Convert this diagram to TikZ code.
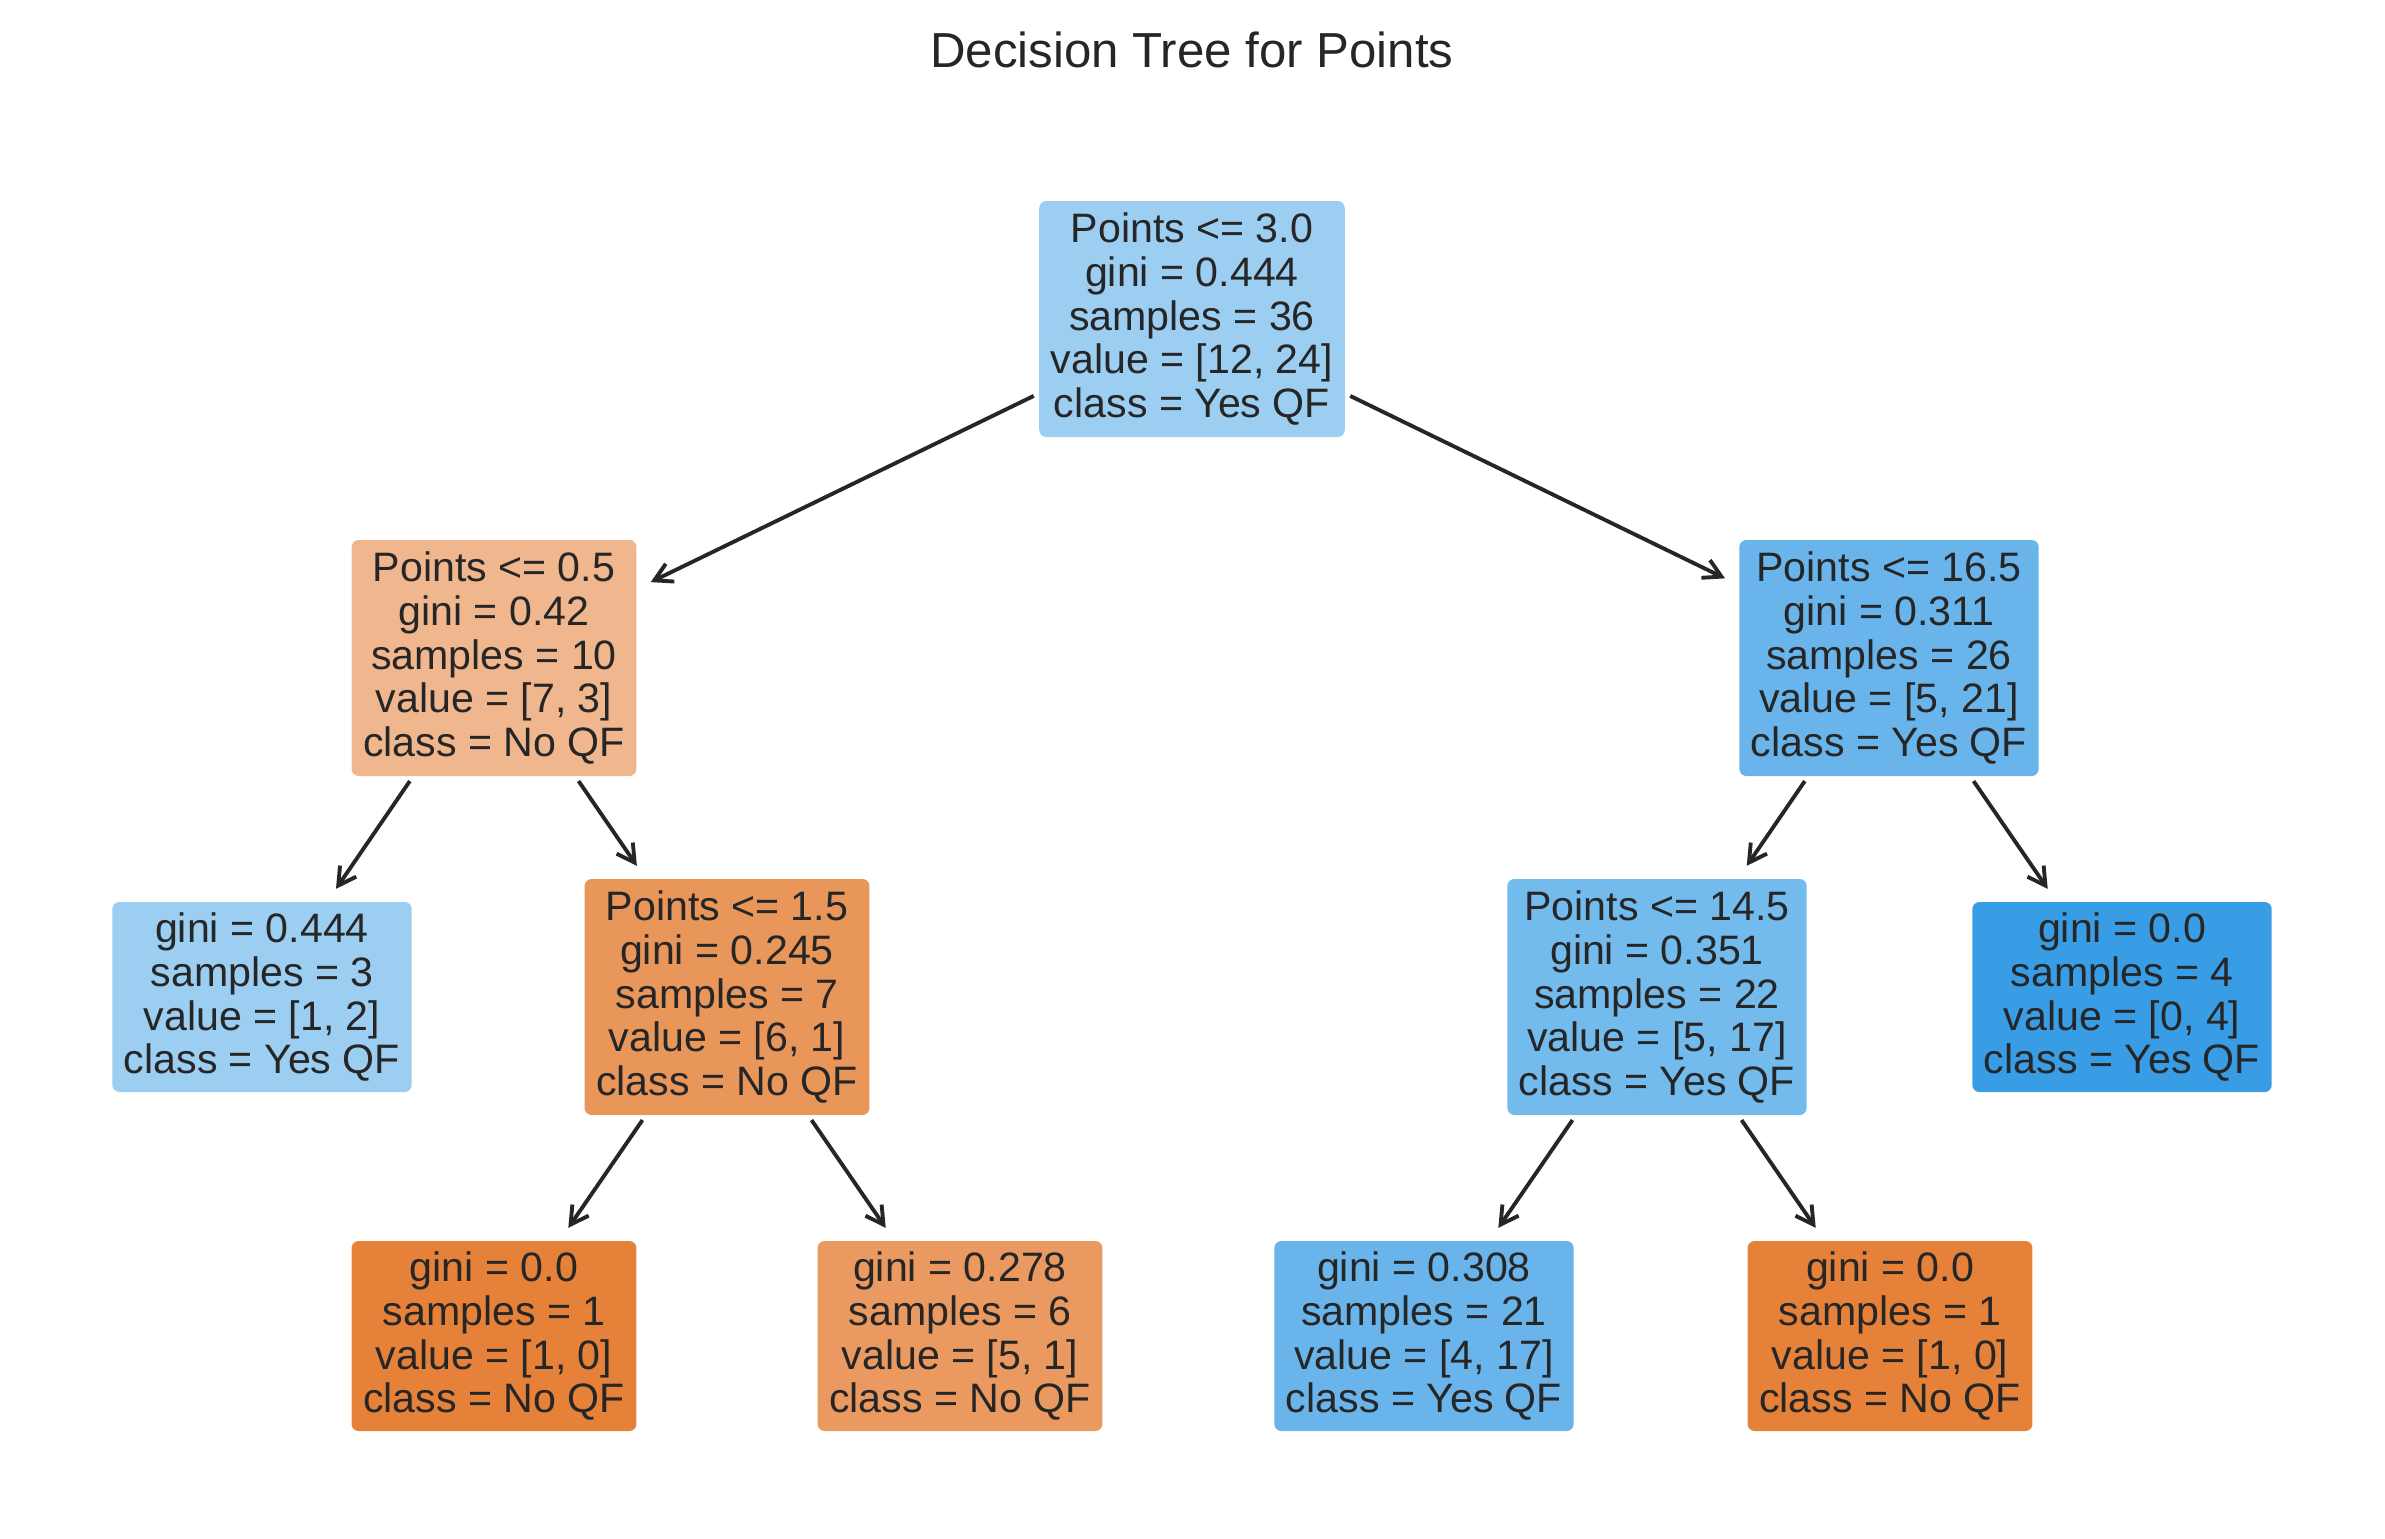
\documentclass[tikz,border=0pt]{standalone}
\usepackage{fontspec}
\setmainfont{Liberation Sans}
\usetikzlibrary{arrows.meta}

\definecolor{inkgray}{HTML}{262626}
\definecolor{yesA}{HTML}{9CCEF2}
\definecolor{yesB}{HTML}{68B4EB}
\definecolor{yesC}{HTML}{73BAED}
\definecolor{yesD}{HTML}{399DE5}
\definecolor{noA}{HTML}{F0B78E}
\definecolor{noB}{HTML}{E9965A}
\definecolor{noC}{HTML}{EA9A61}
\definecolor{noD}{HTML}{E58139}

\begin{document}
\begin{tikzpicture}[
    treebox/.style={rounded corners=2pt, inner xsep=3.3pt, inner ysep=0pt,
      align=center, text=inkgray, font=\fontsize{11.7}{12.5}\selectfont},
    splitbox/.style={treebox, minimum height=2.36cm},
    leafbox/.style={treebox, minimum height=1.90cm},
    arr/.style={-{Straight Barb[length=5pt,width=5.6pt]}, line width=1.1pt,
      draw=inkgray, shorten >=4.3pt, shorten <=1.5pt},
    % draw=black,
  ]
  \useasboundingbox (0,0) rectangle (23.85,-15.38);
  \node[anchor=base, text=inkgray, font=\fontsize{14}{16}\selectfont] (title)
    at (11.92,-0.67) {Decision Tree for Points};

  \node[splitbox, fill=yesA] (root) at (11.92,-3.19)
    {Points <= 3.0\\gini = 0.444\\samples = 36\\value = [12, 24]\\class = Yes QF};
  \node[splitbox, fill=noA] (l) at (4.94,-6.58)
    {Points <= 0.5\\gini = 0.42\\samples = 10\\value = [7, 3]\\class = No QF};
  \node[splitbox, fill=yesB] (r) at (18.89,-6.58)
    {Points <= 16.5\\gini = 0.311\\samples = 26\\value = [5, 21]\\class = Yes QF};
  \node[leafbox, fill=yesA] (ll) at (2.62,-9.97)
    {gini = 0.444\\samples = 3\\value = [1, 2]\\class = Yes QF};
  \node[splitbox, fill=noB] (lr) at (7.27,-9.97)
    {Points <= 1.5\\gini = 0.245\\samples = 7\\value = [6, 1]\\class = No QF};
  \node[splitbox, fill=yesC] (rl) at (16.57,-9.97)
    {Points <= 14.5\\gini = 0.351\\samples = 22\\value = [5, 17]\\class = Yes QF};
  \node[leafbox, fill=yesD] (rr) at (21.22,-9.97)
    {gini = 0.0\\samples = 4\\value = [0, 4]\\class = Yes QF};
  \node[leafbox, fill=noD] (lrl) at (4.94,-13.36)
    {gini = 0.0\\samples = 1\\value = [1, 0]\\class = No QF};
  \node[leafbox, fill=noC] (lrr) at (9.60,-13.36)
    {gini = 0.278\\samples = 6\\value = [5, 1]\\class = No QF};
  \node[leafbox, fill=yesB] (rll) at (14.24,-13.36)
    {gini = 0.308\\samples = 21\\value = [4, 17]\\class = Yes QF};
  \node[leafbox, fill=noD] (rlr) at (18.90,-13.36)
    {gini = 0.0\\samples = 1\\value = [1, 0]\\class = No QF};

  \draw[arr] (root) -- (l);
  \draw[arr] (root) -- (r);
  \draw[arr] (l) -- (ll);
  \draw[arr] (l) -- (lr);
  \draw[arr] (r) -- (rl);
  \draw[arr] (r) -- (rr);
  \draw[arr] (lr) -- (lrl);
  \draw[arr] (lr) -- (lrr);
  \draw[arr] (rl) -- (rll);
  \draw[arr] (rl) -- (rlr);
\end{tikzpicture}
\end{document}
